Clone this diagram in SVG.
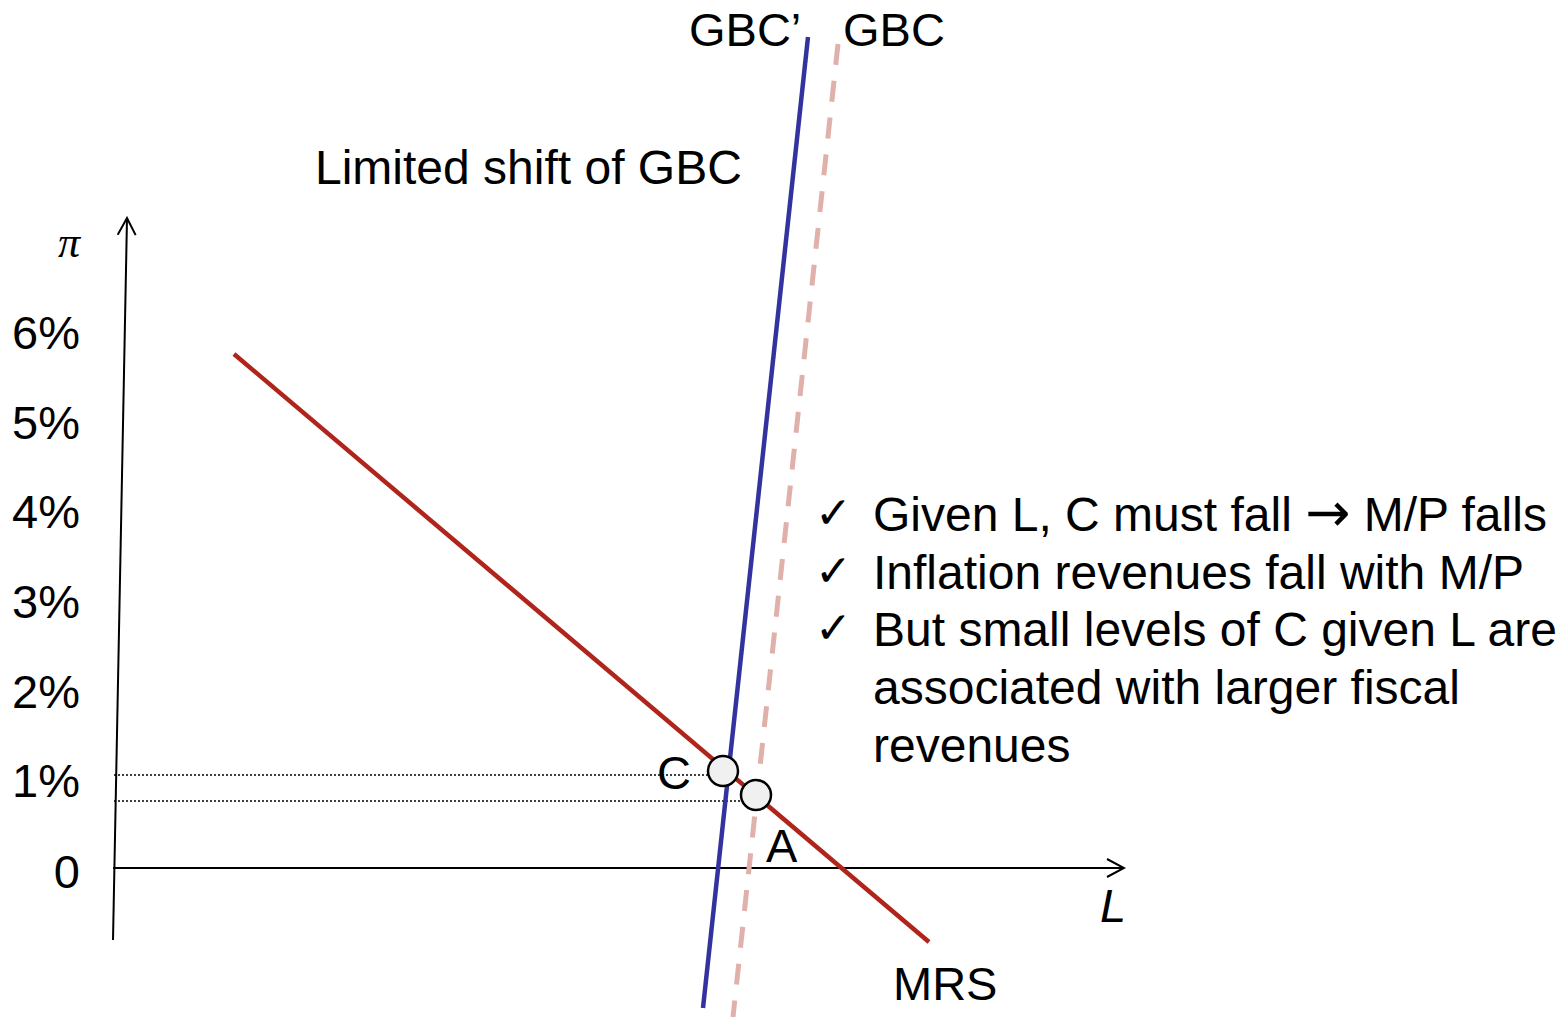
<svg xmlns="http://www.w3.org/2000/svg" width="1563" height="1017" viewBox="0 0 1563 1017">
<style>
text{font-family:"Liberation Sans",Arial,sans-serif;font-size:47px;fill:#000}
.big{font-size:48px}
.ck{font-family:"DejaVu Sans",sans-serif;font-size:44px}
.ax{stroke:#000;stroke-width:2;fill:none}
.dot{stroke:#000;stroke-width:1.5;stroke-dasharray:2 2;fill:none}
.pt{fill:#f0f0f0;stroke:#000;stroke-width:2.5}
</style>
<defs>
<marker id="arr" viewBox="0 0 20 20" refX="18" refY="10" markerWidth="20" markerHeight="20" markerUnits="userSpaceOnUse" orient="auto">
<path d="M1,1 L18,10 L1,19" fill="none" stroke="#000" stroke-width="2"/>
</marker>
</defs>
<rect width="1563" height="1017" fill="#fff"/>
<g id="connectors">
<line class="ax" x1="113" y1="940" x2="127" y2="218" marker-end="url(#arr)"/>
<line class="ax" x1="113" y1="868" x2="1124" y2="868" marker-end="url(#arr)"/>
<line class="dot" x1="114" y1="775" x2="708" y2="775"/>
<line class="dot" x1="114" y1="801" x2="741" y2="801"/>
<line x1="234" y1="354" x2="929" y2="942" stroke="#b0251b" stroke-width="4.5"/>
<line x1="838" y1="44" x2="733" y2="1017" stroke="#e0b0ab" stroke-width="5" stroke-dasharray="21 16"/>
<line x1="808" y1="37" x2="703" y2="1008" stroke="#33339f" stroke-width="4.5"/>
</g>
<g id="point-C"><circle class="pt" cx="723" cy="771" r="15"/><text x="657" y="789">C</text></g>
<g id="point-A"><circle class="pt" cx="756" cy="795" r="15"/><text x="766" y="862">A</text></g>
<g id="labels">
<text x="689" y="46">GBC’</text>
<text x="843" y="46">GBC</text>
<text class="big" x="315" y="184">Limited shift of GBC</text>
<text x="58" y="257" style="font-family:'Liberation Serif',serif;font-style:italic;font-size:44px">π</text>
<text x="80" y="349" text-anchor="end">6%</text>
<text x="80" y="439" text-anchor="end">5%</text>
<text x="80" y="528" text-anchor="end">4%</text>
<text x="80" y="618" text-anchor="end">3%</text>
<text x="80" y="708" text-anchor="end">2%</text>
<text x="80" y="797" text-anchor="end">1%</text>
<text x="80" y="888" text-anchor="end">0</text>
<text x="1100" y="922" font-style="italic">L</text>
<text x="893" y="1000">MRS</text>
</g>
<g id="notes">
<text class="ck" x="815" y="528">✓</text>
<text class="big" x="873" y="531">Given L, C must fall <tspan style="font-family:'DejaVu Sans',sans-serif;font-size:54px">→</tspan> M/P falls</text>
<text class="ck" x="815" y="586">✓</text>
<text class="big" x="873" y="589">Inflation revenues fall with M/P</text>
<text class="ck" x="815" y="643">✓</text>
<text class="big" x="873" y="646">But small levels of C given L are</text>
<text class="big" x="873" y="704">associated with larger fiscal</text>
<text class="big" x="873" y="762">revenues</text>
</g>
</svg>
